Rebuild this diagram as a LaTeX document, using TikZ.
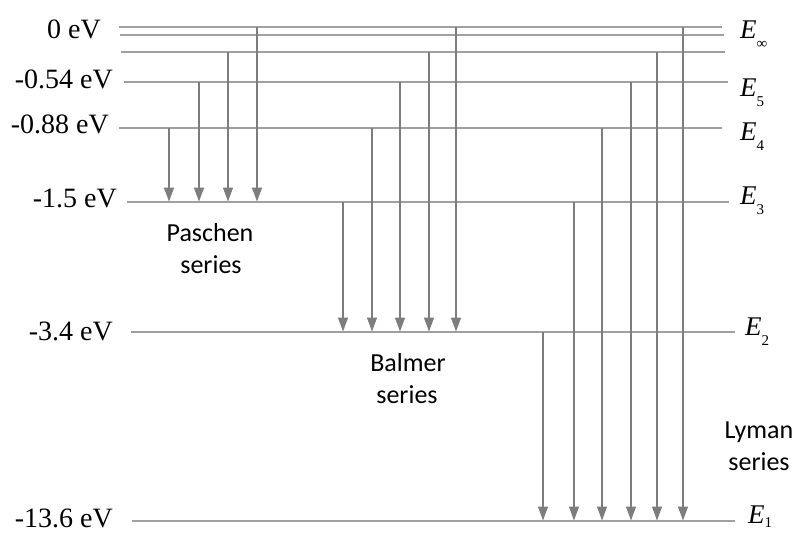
\documentclass[tikz,border=0pt]{standalone}
\usepackage{fontspec}
\setmainfont{Liberation Serif}
\newfontfamily\seriesfont{Carlito}
\usetikzlibrary{arrows.meta}
\definecolor{lvl}{RGB}{160,160,160}
\definecolor{arw}{RGB}{125,125,125}
\begin{document}
\begin{tikzpicture}[x=1pt,y=-1pt,
  level/.style={draw=lvl,line width=1.3pt},
  trans/.style={draw=arw,line width=1.1pt,-{Triangle[length=14pt,width=10pt]},shorten >=0.5pt},
  evlab/.style={anchor=base east,inner sep=0pt,font=\fontsize{28}{30}\selectfont},
  elab/.style={anchor=base west,inner sep=0pt,font=\fontsize{27}{30}\selectfont},
  serlab/.style={anchor=base,inner sep=0pt,font=\seriesfont\fontsize{26}{32}\selectfont}]
\useasboundingbox (0,0) rectangle (795,533);
% levels
\coordinate (Ainf1) at (119,27);  \coordinate (Binf1) at (722,27);
\coordinate (Ainf2) at (120,35);  \coordinate (Binf2) at (724,35);
\coordinate (Ainf3) at (121,52);  \coordinate (Binf3) at (725,52);
\coordinate (A5) at (124,82);  \coordinate (B5) at (728,82);
\coordinate (A4) at (119,128); \coordinate (B4) at (722,128);
\coordinate (A3) at (127,202); \coordinate (B3) at (729,202);
\coordinate (A2) at (131,332); \coordinate (B2) at (735,332);
\coordinate (A1) at (132,521); \coordinate (B1) at (735,521);
\foreach \n in {inf1,inf2,inf3,5,4,3,2,1} \path[level] (A\n) -- (B\n);
% Paschen series
\path[trans] (169,0 |- A4) -- (169,0 |- A3);
\path[trans] (199,0 |- A5) -- (199,0 |- A3);
\path[trans] (228,0 |- Ainf3) -- (228,0 |- A3);
\path[trans] (257,0 |- Ainf1) -- (257,0 |- A3);
% Balmer series
\path[trans] (343,0 |- A3) -- (343,0 |- A2);
\path[trans] (372,0 |- A4) -- (372,0 |- A2);
\path[trans] (400,0 |- A5) -- (400,0 |- A2);
\path[trans] (429,0 |- Ainf3) -- (429,0 |- A2);
\path[trans] (456,0 |- Ainf1) -- (456,0 |- A2);
% Lyman series
\path[trans] (543,0 |- A2) -- (543,0 |- A1);
\path[trans] (574,0 |- A3) -- (574,0 |- A1);
\path[trans] (602,0 |- A4) -- (602,0 |- A1);
\path[trans] (631,0 |- A5) -- (631,0 |- A1);
\path[trans] (657,0 |- Ainf3) -- (657,0 |- A1);
\path[trans] (683,0 |- Ainf1) -- (683,0 |- A1);
% energy labels
\node[evlab] (ev0) at (101,38) {0 eV};
\node[evlab] (ev5) at (113,88) {-0.54 eV};
\node[evlab] (ev4) at (109,133) {-0.88 eV};
\node[evlab] (ev3) at (117,207) {-1.5 eV};
\node[evlab] (ev2) at (113,340) {-3.4 eV};
\node[evlab] (ev1) at (113,527) {-13.6 eV};
% level names
\newcommand{\Elab}[1]{\textit{E}\raisebox{-10pt}{\fontsize{15}{15}\selectfont #1}}
\node[elab] (Einf) at (740,38) {\textit{E}\raisebox{-10.5pt}{\fontsize{15}{15}\selectfont ∞}};
\node[elab] (E5) at (740,96) {\Elab{5}};
\node[elab] (E4) at (740,140) {\Elab{4}};
\node[elab] (E3) at (740,204) {\Elab{3}};
\node[elab] (E2) at (745,335) {\Elab{2}};
\node[elab] (E1) at (748,523) {\textit{E}\raisebox{-4pt}{\fontsize{15}{15}\selectfont 1}};
% series names
\node[serlab] (pas1) at (210,241) {Paschen};
\node[serlab] (pas2) at (211,273) {series};
\node[serlab] (bal1) at (408,371) {Balmer};
\node[serlab] (bal2) at (407,403) {series};
\node[serlab] (lym1) at (759,438) {Lyman};
\node[serlab] (lym2) at (759,470) {series};
\end{tikzpicture}
\end{document}
